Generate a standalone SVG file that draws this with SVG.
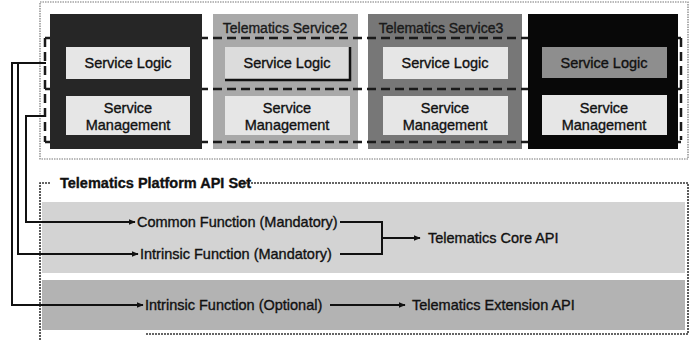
<svg xmlns="http://www.w3.org/2000/svg" width="695" height="340" viewBox="0 0 695 340">
<defs>
<style>
.t{font-family:"Liberation Sans",Arial,sans-serif;font-size:14.5px;fill:#111;stroke:#111;stroke-width:0.35;}
.tt{font-family:"Liberation Sans",Arial,sans-serif;font-size:14px;fill:#1a1a1a;stroke:#1a1a1a;stroke-width:0.35;text-anchor:middle;}
.c{text-anchor:middle;}
.lt{fill:#e6e6e6;}
.dot{fill:none;stroke:#777;stroke-width:1.2;stroke-dasharray:1.5 1;}
.dash{fill:none;stroke:#1a1a1a;stroke-width:2.5;stroke-dasharray:9 5;}
.conn{fill:none;stroke:#111;stroke-width:2;}
</style>
<marker id="arr" viewBox="0 0 10 10" refX="9" refY="5" markerWidth="7" markerHeight="7" markerUnits="userSpaceOnUse" orient="auto">
<path d="M0,1 L10,5 L0,9 z" fill="#111"/>
</marker>
</defs>
<rect width="695" height="340" fill="#fff"/>

<g id="service-area">
<rect x="40" y="2" width="648" height="157" fill="#f4f4f4" class="dot"/>
</g>

<g id="service2">
<rect x="213" y="14" width="145" height="135" fill="#a9a9a9"/>
<text x="285" y="33" class="tt">Telematics Service2</text>
<rect x="225" y="47" width="125" height="33" fill="#dcdcdc"/>
<path d="M225,80 H350 V47" fill="none" stroke="#111" stroke-width="2.5"/>
<text x="287" y="68" class="t c">Service Logic</text>
<rect x="225" y="96" width="125" height="39" class="lt"/>
<text x="287" y="113" class="t c">Service</text>
<text x="287" y="130" class="t c">Management</text>
</g>

<g id="service3">
<rect x="368" y="14" width="154" height="135" fill="#777"/>
<text x="441" y="33" class="tt">Telematics Service3</text>
<rect x="383" y="47" width="125" height="32" class="lt"/>
<text x="445" y="68" class="t c">Service Logic</text>
<rect x="383" y="96" width="125" height="39" class="lt"/>
<text x="445" y="113" class="t c">Service</text>
<text x="445" y="130" class="t c">Management</text>
</g>

<g id="layers">
<path d="M45,38 H681 M45,142 H681 M45,38 V142 M681,38 V140" class="dash"/>
<path d="M45,89 H681" class="dash" stroke-width="4"/>
</g>

<g id="service1">
<rect x="50" y="14" width="152" height="135" fill="#262626"/>
<rect x="66" y="47" width="124" height="32" class="lt"/>
<text x="128" y="68" class="t c">Service Logic</text>
<rect x="66" y="96" width="124" height="39" class="lt"/>
<text x="128" y="113" class="t c">Service</text>
<text x="128" y="130" class="t c">Management</text>
</g>

<g id="service4">
<rect x="528" y="14" width="150" height="135" fill="#080808"/>
<rect x="542" y="47" width="125" height="31" fill="#8e8e8e"/>
<text x="604" y="68" class="t c">Service Logic</text>
<rect x="542" y="95" width="125" height="40" class="lt"/>
<text x="604" y="113" class="t c">Service</text>
<text x="604" y="130" class="t c">Management</text>
</g>

<g id="core-band">
<rect x="42" y="202" width="643" height="71" fill="#d3d3d3"/>
<text x="137" y="227" class="t">Common Function (Mandatory)</text>
<text x="140" y="259" class="t">Intrinsic Function (Mandatory)</text>
<text x="428" y="243" class="t">Telematics Core API</text>
</g>

<g id="extension-band">
<rect x="42" y="280" width="643" height="50" fill="#b3b3b3"/>
<text x="145" y="310" class="t">Intrinsic Function (Optional)</text>
<text x="412" y="310" class="t">Telematics Extension API</text>
</g>

<g id="api-set">
<path d="M40,340 V183 H50 M245,183 H688 V334 H145" fill="none" stroke="#333" stroke-width="1.6" stroke-dasharray="2 1"/>
<text x="60" y="188" class="t" font-size="13" font-weight="bold">Telematics Platform API Set</text>
</g>

<g id="connectors">
<path d="M46,63 H12 V305 H143" class="conn" marker-end="url(#arr)"/>
<path d="M18,63 V254 H138" class="conn" marker-end="url(#arr)"/>
<path d="M46,116 H26 V222 H135" class="conn" marker-end="url(#arr)"/>
<path d="M340,222 H382 V254 H340 M382,238 H419" class="conn"/>
<path d="M382,238 H420" class="conn" marker-end="url(#arr)"/>
<path d="M330,305 H405" class="conn" marker-end="url(#arr)"/>
</g>
</svg>
